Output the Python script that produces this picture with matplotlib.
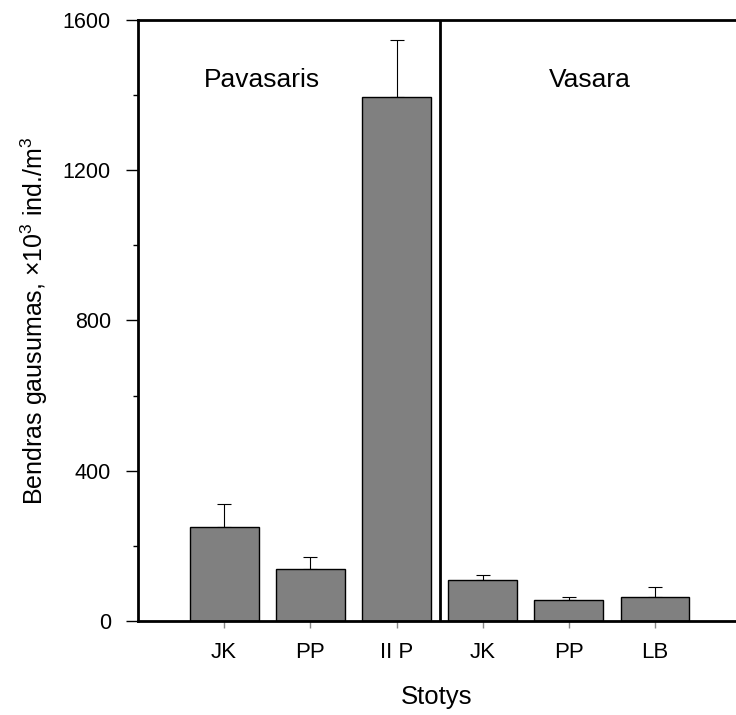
import matplotlib
matplotlib.use("Agg")
import matplotlib.pyplot as plt
import numpy as np

plt.rcParams['font.family'] = ['Liberation Sans', 'DejaVu Sans']

# data
stations = ["JK", "PP", "II P", "JK", "PP", "LB"]
abundance = [251, 138, 1395, 109, 56, 63]
abundance_err = [60, 33, 152, 14, 8, 27]
seasons = ["Pavasaris", "Vasara"]

fig = plt.figure(figsize=(7.36, 7.15), dpi=100)
ax = fig.add_axes([0.1875, 0.1315, 0.8125, 0.8405])

x = np.arange(1, len(stations) + 1)
ax.bar(x, abundance, width=0.8, color="#808080", edgecolor="black", linewidth=1,
       zorder=2)
ax.errorbar(x, abundance, yerr=[np.zeros(len(x)), abundance_err], fmt="none",
            ecolor="black", elinewidth=0.8, capsize=5, capthick=0.8, zorder=1)

# season divider
ax.axvline(3.5, color="black", lw=2)
ax.text(1.44, 1440, seasons[0], ha="center", va="center", fontsize=19)
ax.text(5.24, 1440, seasons[1], ha="center", va="center", fontsize=19)

ax.set_xlim(0, 6.94)
ax.set_ylim(0, 1600)
ax.set_xticks(x)
ax.set_xticklabels(stations, fontsize=16)
ax.set_yticks([0, 400, 800, 1200, 1600])
ax.set_yticks([200, 600, 1000, 1400], minor=True)
ax.tick_params(axis="y", labelsize=15.5, length=8.5, width=1, direction="out",
               pad=11)
ax.tick_params(axis="y", which="minor", length=3.6, width=1)
ax.tick_params(axis="x", length=5, width=1, color="#888888", pad=10)

for s in ["left", "bottom", "top"]:
    ax.spines[s].set_linewidth(2)
ax.spines["right"].set_visible(False)

ax.set_xlabel("Stotys", fontsize=18.5, labelpad=16)
ax.set_ylabel(r"Bendras gausumas, ×10$^{\mathregular{3}}$ ind./m$^{\mathregular{3}}$",
              fontsize=18, labelpad=9)

fig.savefig("out.png", dpi=100)
